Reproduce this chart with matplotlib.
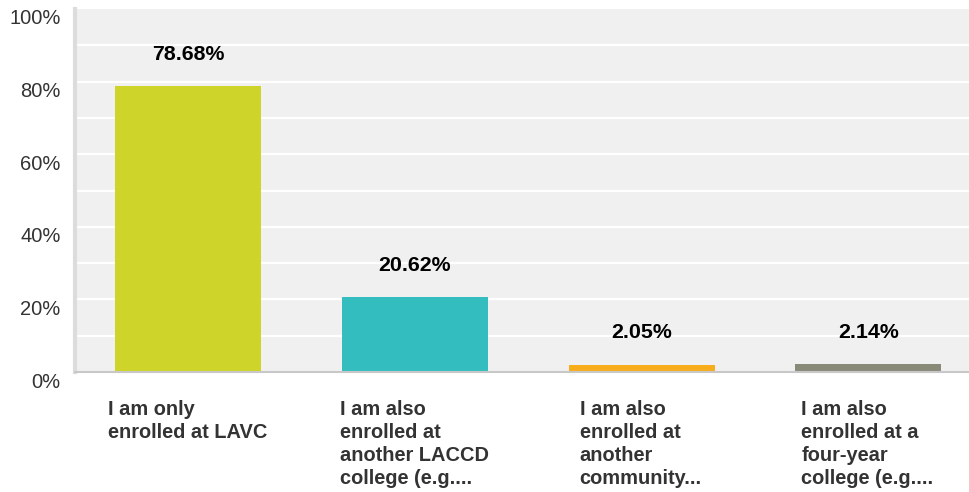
import matplotlib
matplotlib.use("Agg")
import matplotlib.pyplot as plt
from matplotlib.transforms import ScaledTranslation

plt.rcParams['font.family'] = ['Liberation Sans', 'DejaVu Sans']

categories = [
    "I am only\nenrolled at LAVC",
    "I am also\nenrolled at\nanother LACCD\ncollege (e.g....",
    "I am also\nenrolled at\nanother\ncommunity...",
    "I am also\nenrolled at a\nfour-year\ncollege (e.g....",
]
values = [78.68, 20.62, 2.05, 2.14]
colors = ["#cfd42a", "#34bdbf", "#f8ad1d", "#8a8a79"]
yticks = [0, 20, 40, 60, 80, 100]

fig = plt.figure(figsize=(9.69, 4.92), dpi=100)
ax = fig.add_axes([75 / 969, 120 / 492, 894 / 969, 363 / 492])
ax.set_facecolor("#f0f0f0")

x = list(range(len(values)))
ax.bar(x, values, width=0.644, color=colors, zorder=3)
ax.set_xlim(-0.5, 3.444)
ax.set_ylim(0, 100)

# white grid every 10%
for g in range(10, 100, 10):
    ax.axhline(g, color="white", lw=1.6, zorder=1)

ax.set_yticks(yticks)
ax.set_yticklabels([f"{t}%" for t in yticks], fontsize=14.5, color="#333333")
ax.tick_params(axis="y", length=0, pad=10.5)
off = ScaledTranslation(0, -0.08, fig.dpi_scale_trans)
for lab in ax.get_yticklabels():
    lab.set_transform(lab.get_transform() + off)
ax.set_xticks([])

for s in ["top", "right"]:
    ax.spines[s].set_visible(False)
ax.spines["left"].set_color("#dcdcdc")
ax.spines["left"].set_linewidth(3)
ax.spines["bottom"].set_color("#c8c8c8")
ax.spines["bottom"].set_linewidth(1.5)
ax.spines["bottom"].set_zorder(4)

for i, v in enumerate(values):
    ax.annotate(f"{v:.2f}%", xy=(i, v), xytext=(0, 32), textcoords="offset pixels",
                ha="center", va="center", fontsize=15.4, fontweight="bold", color="black")
    ax.annotate(categories[i], xy=(i, 0), xycoords=("data", "axes fraction"),
                xytext=(-1, -28), textcoords="offset pixels",
                ha="center", va="top", multialignment="left", fontsize=14.4,
                fontweight="bold", color="#333333", linespacing=1.26,
                annotation_clip=False)

fig.savefig("out.png", dpi=100)
